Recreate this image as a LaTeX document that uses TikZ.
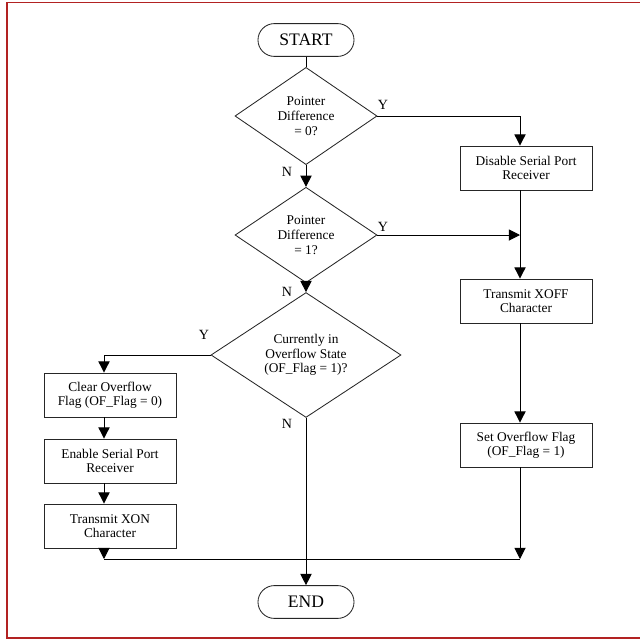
\documentclass[tikz,border=0pt]{standalone}
\usepackage{fontspec}
\setmainfont{Liberation Serif}
\usetikzlibrary{shapes.geometric,arrows.meta}
\definecolor{framered}{RGB}{178,34,34}
\tikzset{
  procbox/.style={draw=black!85,line width=0.6pt,minimum width=3.3cm,minimum height=1.1cm,
    inner sep=1pt,align=center,font=\fontsize{9.5}{10.2}\selectfont},
  decide/.style={draw=black!85,line width=0.6pt,diamond,inner sep=0pt,align=center,
    font=\fontsize{9.5}{10.5}\selectfont},
  termbox/.style={draw=black!85,line width=0.6pt,rounded corners=0.41cm,minimum width=2.4cm,
    minimum height=0.82cm,inner sep=0pt,font=\fontsize{12.5}{14}\selectfont},
  lbl/.style={font=\fontsize{10}{12}\selectfont,inner sep=0pt},
  arr/.style={-{Triangle[length=8pt,width=8pt]}},
}
\begin{document}
\begin{tikzpicture}[x=0.025cm,y=-0.025cm,line width=0.7pt]
  \useasboundingbox (0,0) rectangle (640,640);
  % frame
  \draw[framered,line width=1.4pt] (640,2.5) -- (7,2.5) -- (7,638) -- (640,638);
  % columns and merge line
  \coordinate (lcol) at (104,0);
  \coordinate (rcol) at (520,0);
  \coordinate (mrg) at (306,559);
  % nodes
  \node[termbox] (start) at (306,40) {START};
  \node[decide,minimum width=3.55cm,minimum height=2.43cm] (d1) at (306,116) {Pointer\\Difference\\= 0?};
  \node[decide,minimum width=3.55cm,minimum height=2.35cm] (d2) at (306,235) {Pointer\\Difference\\= 1?};
  \node[decide,minimum width=4.75cm,minimum height=2.73cm] (d3) at (306,355) {Currently in\\Overflow State\\(OF\_Flag = 1)?};
  \node[procbox] (dis) at (526,168) {Disable Serial Port\\Receiver};
  \node[procbox] (xoff) at (526,301) {Transmit XOFF\\Character};
  \node[procbox] (setof) at (526,445) {Set Overflow Flag\\(OF\_Flag = 1)};
  \node[procbox] (clr) at (110,395) {Clear Overflow\\Flag (OF\_Flag = 0)};
  \node[procbox] (ena) at (110,461) {Enable Serial Port\\Receiver};
  \node[procbox] (xon) at (110,526) {Transmit XON\\Character};
  \node[termbox] (end) at (306,602) {END};
  % labels
  \node[lbl] (y1) at (383,105) {Y};
  \node[lbl] (n1) at (287,172) {N};
  \node[lbl] (y2) at (383,227) {Y};
  \node[lbl] (n2) at (287,292) {N};
  \node[lbl] (y3) at (204,335) {Y};
  \node[lbl] (n3) at (287,424) {N};
  % connectors
  \draw (start) -- (d1);
  \draw[arr] (d1) -- (d2);
  \draw[arr] (d2) -- (d3);
  \draw[arr] (d1.east) -| (dis.north -| rcol);
  \draw[arr] (d2.east) -- (d2.east -| rcol);
  \draw[arr] (dis.south -| rcol) -- (xoff.north -| rcol);
  \draw[arr] (xoff.south -| rcol) -- (setof.north -| rcol);
  \draw[arr] (setof.south -| rcol) -- (rcol |- mrg);
  \draw[arr] (d3.west) -| (clr.north -| lcol);
  \draw[arr] (clr.south -| lcol) -- (ena.north -| lcol);
  \draw[arr] (ena.south -| lcol) -- (xon.north -| lcol);
  \draw[arr] (xon.south -| lcol) -- (lcol |- mrg);
  \draw (lcol |- mrg) -- (rcol |- mrg);
  \draw[arr] (d3) -- (end);
\end{tikzpicture}
\end{document}
